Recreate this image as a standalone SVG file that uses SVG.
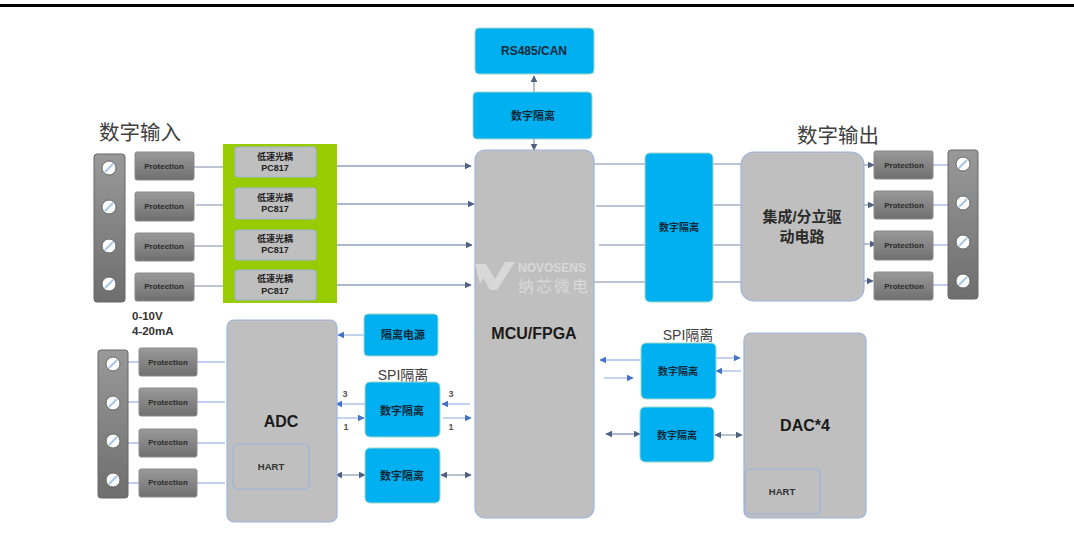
<svg xmlns="http://www.w3.org/2000/svg" width="1074" height="545" viewBox="0 0 1074 545">
<style>
text{font-family:"Liberation Sans","Noto Sans CJK SC",sans-serif;text-anchor:middle;fill:#1a1a1a}
.blue{fill:#00b0f0;stroke:#9fd8c8;stroke-width:1}
.gray{fill:#bfbfbf;stroke:#9db4dc;stroke-width:1.2}
.prot{fill:url(#pg);stroke:#8a8a8a;stroke-width:1}
.strip{fill:url(#sg);stroke:#666;stroke-width:1}
.ptx{font-size:8px;font-weight:700;fill:#2b2b2b}
.bt{font-size:11px;font-weight:700;fill:#0d2a3a}
.ttl{font-size:20.5px;fill:#404040}
.spi{font-size:14px;fill:#404040}
.opt{font-size:9px;font-weight:700;fill:#222}
.num{font-size:9px;font-weight:700;fill:#555}
.lg{stroke:#a8b3c6;stroke-width:1.4;fill:none}
.lb{stroke:#a9c0ea;stroke-width:1.4;fill:none}
.d{stroke:#8f9fba;stroke-width:1.3;fill:none;marker-end:url(#ad)}
.dd{stroke:#8f9fba;stroke-width:1.3;fill:none;marker-end:url(#ad);marker-start:url(#ads)}
.b{stroke:#a9c0ea;stroke-width:1.4;fill:none;marker-end:url(#ab)}
.scr{fill:#fff;stroke:#666;stroke-width:1}
.sl{stroke:#a9c4ea;stroke-width:2}
</style>
<defs>
<linearGradient id="pg" x1="0" y1="0" x2="0" y2="1"><stop offset="0" stop-color="#9a9a9a"/><stop offset="1" stop-color="#6f6f6f"/></linearGradient>
<linearGradient id="sg" x1="0" y1="0" x2="0" y2="1"><stop offset="0" stop-color="#999"/><stop offset="1" stop-color="#6e6e6e"/></linearGradient>
<marker id="ad" viewBox="0 0 10 10" refX="9" refY="5" markerWidth="7" markerHeight="7" markerUnits="userSpaceOnUse" orient="auto"><path d="M0 0L10 5L0 10Z" fill="#4f6180"/></marker>
<marker id="ads" viewBox="0 0 10 10" refX="1" refY="5" markerWidth="7" markerHeight="7" markerUnits="userSpaceOnUse" orient="auto"><path d="M10 0L0 5L10 10Z" fill="#4f6180"/></marker>
<marker id="ab" viewBox="0 0 10 10" refX="9" refY="5" markerWidth="7" markerHeight="7" markerUnits="userSpaceOnUse" orient="auto"><path d="M0 0L10 5L0 10Z" fill="#4472c4"/></marker>
<g id="screw"><circle r="7" class="scr"/><line x1="-4" y1="4" x2="4" y2="-4" class="sl"/></g>
</defs>

<rect id="top-rule" x="0" y="4" width="1074" height="3" fill="#000"/>

<g id="connectors">
<path class="lg" d="M194 167H223M196 205H223M194 246H223M194 286H223"/>
<path class="d" d="M337 166H471"/>
<path class="d" d="M337 204H474"/>
<path class="d" d="M337 245H472"/>
<path class="d" d="M337 285H471"/>
<path class="lb" d="M128 362H139M128 402H139M128 443H139M128 483H139M197 362H225M197 402H225M197 443H225M197 483H225"/>
<path class="b" d="M364 335H338"/>
<path class="b" d="M365 404H336"/>
<path class="b" d="M336 418H364"/>
<path class="dd" d="M336 475H365"/>
<path class="b" d="M470 404H442"/>
<path class="b" d="M443 418H471"/>
<path class="dd" d="M441 475H471"/>
<path class="d" d="M534 92V76"/>
<path class="d" d="M534 139V150"/>
<path class="lg" d="M594 164H645M596 206H645M599 245H645M594 282H645M713 164H741M713 205H741M713 245H741M713 282H741"/>
<path class="d" d="M864 165H874"/>
<path class="d" d="M864 205H874"/>
<path class="d" d="M864 244H876"/>
<path class="d" d="M864 281H873"/>
<path class="lb" d="M933 165H948M933 205H948M933 245H948M933 285H948"/>
<path class="b" d="M641 360H600"/>
<path class="b" d="M604 378H633"/>
<path class="b" d="M716 358H740"/>
<path class="b" d="M741 371H716"/>
<path class="dd" d="M606 434H640"/>
<path class="dd" d="M715 435H742"/>
</g>

<text class="ttl" x="140" y="140">数字输入</text>
<text class="ttl" x="838" y="143">数字输出</text>

<g id="strip-in"><rect x="94" y="154" width="31" height="148" rx="3" class="strip"/>
<use href="#screw" x="109" y="168"/><use href="#screw" x="109" y="207"/><use href="#screw" x="109" y="246"/><use href="#screw" x="109" y="284"/></g>

<g id="prot-in-1"><rect x="135" y="152" width="59" height="28" rx="2" class="prot"/><text class="ptx" x="164" y="169">Protection</text></g>
<g id="prot-in-2"><rect x="135" y="192" width="59" height="29" rx="2" class="prot"/><text class="ptx" x="164" y="209">Protection</text></g>
<g id="prot-in-3"><rect x="135" y="233" width="59" height="28" rx="2" class="prot"/><text class="ptx" x="164" y="249">Protection</text></g>
<g id="prot-in-4"><rect x="135" y="273" width="59" height="28" rx="2" class="prot"/><text class="ptx" x="164" y="289">Protection</text></g>

<g id="opto-group"><rect x="223" y="144" width="114" height="159" fill="#99cc00"/></g>
<g id="opto-1"><rect x="235" y="147" width="81" height="30" rx="3" class="gray"/><text class="opt" x="275" y="160">低速光耦</text><text class="opt" x="275" y="171">PC817</text></g>
<g id="opto-2"><rect x="235" y="188" width="81" height="31" rx="3" class="gray"/><text class="opt" x="275" y="201">低速光耦</text><text class="opt" x="275" y="212">PC817</text></g>
<g id="opto-3"><rect x="235" y="230" width="81" height="30" rx="3" class="gray"/><text class="opt" x="275" y="242">低速光耦</text><text class="opt" x="275" y="253">PC817</text></g>
<g id="opto-4"><rect x="235" y="270" width="81" height="30" rx="3" class="gray"/><text class="opt" x="275" y="282">低速光耦</text><text class="opt" x="275" y="294">PC817</text></g>

<g id="range-label"><text x="132" y="320" font-size="11.5" font-weight="700" style="text-anchor:start;fill:#333">0-10V</text><text x="132" y="335" font-size="11.5" font-weight="700" style="text-anchor:start;fill:#333">4-20mA</text></g>

<g id="strip-ain"><rect x="98" y="350" width="30" height="148" rx="3" class="strip"/>
<use href="#screw" x="113" y="364"/><use href="#screw" x="113" y="403"/><use href="#screw" x="113" y="441"/><use href="#screw" x="113" y="480"/></g>

<g id="prot-ain-1"><rect x="139" y="348" width="58" height="28" rx="2" class="prot"/><text class="ptx" x="168" y="365">Protection</text></g>
<g id="prot-ain-2"><rect x="139" y="388" width="58" height="28" rx="2" class="prot"/><text class="ptx" x="168" y="405">Protection</text></g>
<g id="prot-ain-3"><rect x="139" y="429" width="58" height="28" rx="2" class="prot"/><text class="ptx" x="168" y="445">Protection</text></g>
<g id="prot-ain-4"><rect x="139" y="469" width="58" height="28" rx="2" class="prot"/><text class="ptx" x="168" y="485">Protection</text></g>

<g id="adc"><rect x="227" y="320" width="110" height="202" rx="7" class="gray"/><text x="281" y="427" font-size="16" font-weight="700">ADC</text></g>
<g id="hart-adc"><rect x="233" y="444" width="76" height="45" rx="5" class="gray"/><text x="271" y="470" font-size="9.5" font-weight="700" style="fill:#333">HART</text></g>

<g id="iso-power"><rect x="364" y="314" width="74" height="42" rx="4" class="blue"/><text class="bt" x="403" y="339">隔离电源</text></g>
<text class="spi" x="403" y="380">SPI隔离</text>
<g id="iso-spi-adc"><rect x="365" y="382" width="75" height="55" rx="5" class="blue"/><text class="bt" x="402" y="415">数字隔离</text></g>
<g id="iso-adc-2"><rect x="365" y="448" width="75" height="55" rx="5" class="blue"/><text class="bt" x="402" y="480">数字隔离</text></g>
<g id="numbers"><text class="num" x="345" y="397">3</text><text class="num" x="346" y="430">1</text><text class="num" x="451" y="397">3</text><text class="num" x="451" y="430">1</text></g>

<g id="rs485"><rect x="475" y="28" width="119" height="46" rx="4" class="blue"/><text x="534" y="55" font-size="12" font-weight="700" style="fill:#0d2a3a">RS485/CAN</text></g>
<g id="iso-top"><rect x="473" y="92" width="119" height="47" rx="4" class="blue"/><text class="bt" x="533" y="120">数字隔离</text></g>
<g id="mcu"><rect x="475" y="150" width="119" height="368" rx="10" class="gray"/><text x="534" y="339" font-size="16" font-weight="700">MCU/FPGA</text>
<g id="watermark" opacity=".4"><path d="M475 264H486L495 279L505 262H515L497 290H490L483 278L480 284Z" fill="#fff"/><text x="518" y="272" font-size="12" font-weight="700" style="text-anchor:start;fill:#fff">NOVOSENS</text><text x="518" y="292" font-size="16" letter-spacing="2" style="text-anchor:start;fill:#fff">纳芯微电</text></g></g>

<g id="iso-mid"><rect x="645" y="153" width="68" height="149" rx="5" class="blue"/><text class="bt" x="679" y="231" style="font-size:10px">数字隔离</text></g>
<g id="driver"><rect x="741" y="152" width="123" height="149" rx="13" class="gray"/><text x="802" y="222" font-size="15" font-weight="700" style="fill:#2b2b2b">集成/分立驱</text><text x="802" y="242" font-size="15" font-weight="700" style="fill:#2b2b2b">动电路</text></g>

<g id="prot-out-1"><rect x="874" y="151" width="59" height="28" rx="2" class="prot"/><text class="ptx" x="904" y="168">Protection</text></g>
<g id="prot-out-2"><rect x="874" y="191" width="59" height="28" rx="2" class="prot"/><text class="ptx" x="904" y="208">Protection</text></g>
<g id="prot-out-3"><rect x="874" y="231" width="59" height="29" rx="2" class="prot"/><text class="ptx" x="904" y="248">Protection</text></g>
<g id="prot-out-4"><rect x="874" y="272" width="59" height="28" rx="2" class="prot"/><text class="ptx" x="904" y="289">Protection</text></g>

<g id="strip-out"><rect x="948" y="150" width="30" height="149" rx="3" class="strip"/>
<use href="#screw" x="963" y="164"/><use href="#screw" x="963" y="203"/><use href="#screw" x="963" y="242"/><use href="#screw" x="963" y="281"/></g>

<text class="spi" x="688" y="340">SPI隔离</text>
<g id="iso-spi-dac"><rect x="641" y="343" width="75" height="56" rx="5" class="blue"/><text class="bt" x="678" y="375" style="font-size:10px">数字隔离</text></g>
<g id="iso-dac-2"><rect x="640" y="407" width="74" height="55" rx="5" class="blue"/><text class="bt" x="677" y="439" style="font-size:10px">数字隔离</text></g>
<g id="dac"><rect x="744" y="333" width="122" height="185" rx="7" class="gray"/><text x="805" y="431" font-size="16" font-weight="700">DAC*4</text></g>
<g id="hart-dac"><rect x="745" y="469" width="75" height="45" rx="5" class="gray"/><text x="782" y="495" font-size="9.5" font-weight="700" style="fill:#333">HART</text></g>
</svg>
